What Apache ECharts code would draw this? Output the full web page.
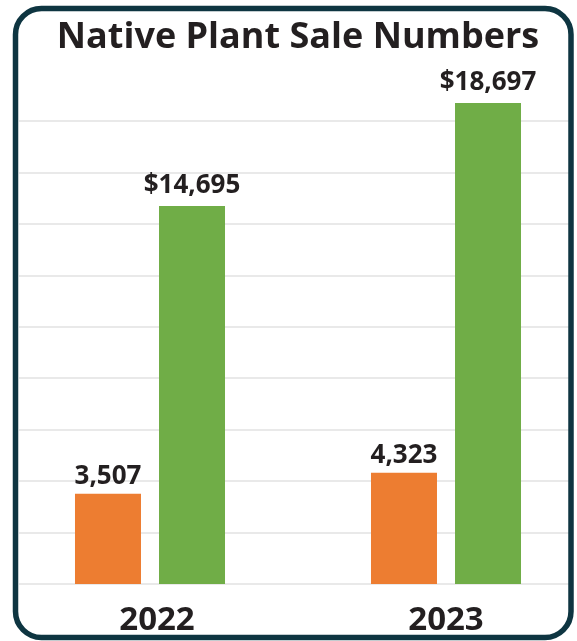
<!DOCTYPE html>
<html>
<head>
<meta charset="utf-8">
<script src="https://cdn.jsdelivr.net/npm/echarts@6/dist/echarts.min.js"></script>
<style>
html,body{margin:0;padding:0;background:#fff;}
#chart{width:577px;height:641px;}
</style>
</head>
<body>
<div id="chart"></div>
<script>
var titleText = 'Native Plant Sale Numbers';
var categories = ['2022', '2023'];
var plantsSold = [3507, 4323];
var salesDollars = [14695, 18697];
var axisMin = 0;
var axisMax = 18000;
var axisInterval = 2000;

var FONT = 'Open Sans';
var TEXT = '#231f20';

var chart = echarts.init(document.getElementById('chart'), null, {renderer: 'canvas'});

var option = {
  backgroundColor: '#ffffff',
  animation: false,
  title: {
    text: titleText,
    left: 293,
    top: 15,
    textAlign: 'center',
    textStyle: {fontFamily: FONT, fontWeight: 'bold', fontSize: 36, color: TEXT}
  },
  grid: [
    {left: 2, width: 592, top: 121, bottom: 57, outerBoundsMode: 'none', containLabel: false},
    {left: 19, right: 8, top: 121, bottom: 57, outerBoundsMode: 'none', containLabel: false}
  ],
  xAxis: [
    {
      type: 'category',
      gridIndex: 0,
      data: [
        {value: categories[0], textStyle: {padding: [0, 0, 0, 14]}},
        {value: categories[1]}
      ],
      axisLine: {show: false},
      axisTick: {show: false},
      axisLabel: {
        margin: 20,
        fontFamily: FONT, fontWeight: 'bold', fontSize: 33, color: TEXT
      }
    },
    {type: 'value', gridIndex: 1, min: 0, max: 1, show: false}
  ],
  yAxis: [
    {
      type: 'value', gridIndex: 0,
      min: axisMin, max: axisMax, interval: axisInterval,
      axisLine: {show: false}, axisTick: {show: false},
      axisLabel: {show: false}, splitLine: {show: false}
    },
    {
      type: 'value', gridIndex: 1,
      min: axisMin, max: axisMax, interval: axisInterval,
      axisLine: {show: false}, axisTick: {show: false},
      axisLabel: {show: false},
      splitLine: {show: true, lineStyle: {color: '#e2e2e2', width: 1.5}}
    }
  ],
  series: [
    {
      name: 'Plants',
      type: 'bar',
      xAxisIndex: 0, yAxisIndex: 0,
      data: plantsSold,
      barWidth: 66,
      barGap: '27.3%',
      clip: false,
      itemStyle: {color: '#ed7d31'},
      label: {
        show: true, position: 'top', distance: 4,
        fontFamily: FONT, fontWeight: 'bold', fontSize: 26, color: TEXT,
        formatter: function (p) { return p.value.toLocaleString('en-US'); }
      }
    },
    {
      name: 'Sales',
      type: 'bar',
      xAxisIndex: 0, yAxisIndex: 0,
      data: salesDollars,
      barWidth: 66,
      barGap: '27.3%',
      clip: false,
      itemStyle: {color: '#70ad47'},
      label: {
        show: true, position: 'top', distance: 7,
        fontFamily: FONT, fontWeight: 'bold', fontSize: 26, color: TEXT,
        formatter: function (p) { return '$' + p.value.toLocaleString('en-US'); }
      }
    }
  ],
  graphic: [
    {
      type: 'rect',
      z: 100,
      silent: true,
      shape: {x: 15.5, y: 8.5, width: 555.5, height: 629, r: 26},
      style: {fill: 'none', stroke: '#0e3541', lineWidth: 5.5}
    }
  ]
};

chart.setOption(option);
</script>
</body>
</html>
